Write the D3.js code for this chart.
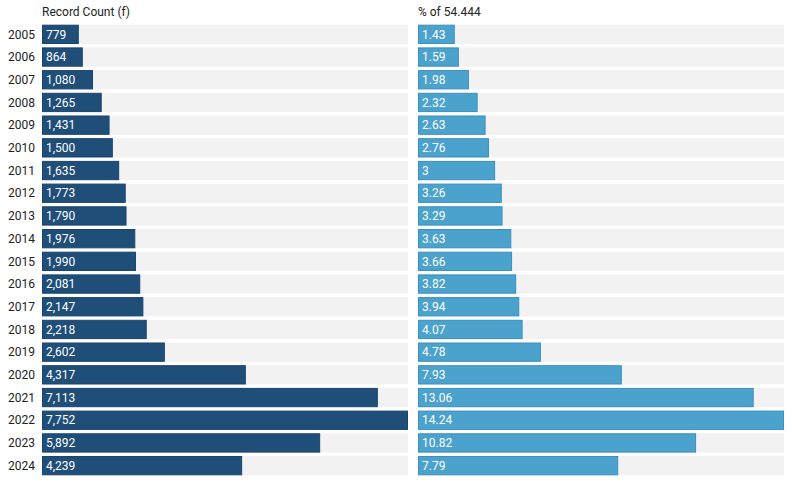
<!DOCTYPE html>
<html>
<head>
<meta charset="utf-8">
<script src="https://cdn.jsdelivr.net/npm/d3@7"></script>
<style>
  body { margin: 0; background: #fff; }
  text { font-family: Roboto, "Noto Sans", sans-serif; }
</style>
</head>
<body>
<div id="chart"></div>
<script>
// Data
const years = ["2005", "2006", "2007", "2008", "2009", "2010", "2011", "2012", "2013", "2014",
  "2015", "2016", "2017", "2018", "2019", "2020", "2021", "2022", "2023", "2024"];
const counts = [779, 864, 1080, 1265, 1431, 1500, 1635, 1773, 1790, 1976,
  1990, 2081, 2147, 2218, 2602, 4317, 7113, 7752, 5892, 4239];
const percents = [1.43, 1.59, 1.98, 2.32, 2.63, 2.76, 3, 3.26, 3.29, 3.63,
  3.66, 3.82, 3.94, 4.07, 4.78, 7.93, 13.06, 14.24, 10.82, 7.79];
const titles = ["Record Count (f)", "% of 54.444"];

const W = 792, H = 485;

const svg = d3.select("#chart")
    .append("svg")
    .attr("width", W)
    .attr("height", H);

const y = d3.scaleBand()
    .domain(years)
    .range([23, 477])
    .paddingInner(0.15)
    .paddingOuter(0.075);

// Year labels on the left
svg.append("g")
    .selectAll("text")
    .data(years)
    .enter().append("text")
    .attr("x", 35)
    .attr("y", d => y(d) + y.bandwidth() / 2)
    .attr("dy", "0.35em")
    .attr("text-anchor", "end")
    .attr("font-size", 12)
    .attr("fill", "#222")
    .text(d => d);

function panel(x0, x1, values, title, fill, stroke, format) {
    const x = d3.scaleLinear()
        .domain([0, d3.max(values)])
        .range([x0, x1]);

    const g = svg.append("g");

    g.append("text")
        .attr("x", x0)
        .attr("y", 16)
        .attr("font-size", 12)
        .attr("fill", "#222")
        .text(title);

    const rows = years.map((yr, i) => ({ year: yr, value: values[i] }));

    // grey background tracks
    g.selectAll(".track")
        .data(rows)
        .enter().append("rect")
        .attr("class", "track")
        .attr("x", x0)
        .attr("y", d => y(d.year))
        .attr("width", x1 - x0)
        .attr("height", y.bandwidth())
        .attr("fill", "#f2f2f2");

    g.selectAll(".bar")
        .data(rows)
        .enter().append("rect")
        .attr("class", "bar")
        .attr("x", x(0) + 0.5)
        .attr("y", d => y(d.year) + 0.5)
        .attr("width", d => x(d.value) - x(0) - 1)
        .attr("height", y.bandwidth() - 1)
        .attr("fill", fill)
        .attr("stroke", stroke)
        .attr("stroke-width", 1);

    g.selectAll(".val")
        .data(rows)
        .enter().append("text")
        .attr("class", "val")
        .attr("x", x0 + 4)
        .attr("y", d => y(d.year) + y.bandwidth() / 2)
        .attr("dy", "0.35em")
        .attr("font-size", 12)
        .attr("fill", "#fff")
        .text(d => format(d.value));
}

panel(42, 408, counts, titles[0], "#1f4e79", "#1a4470", d3.format(","));
panel(418, 784, percents, titles[1], "#4ba2cc", "#3a90bf", d => String(d));
</script>
</body>
</html>
